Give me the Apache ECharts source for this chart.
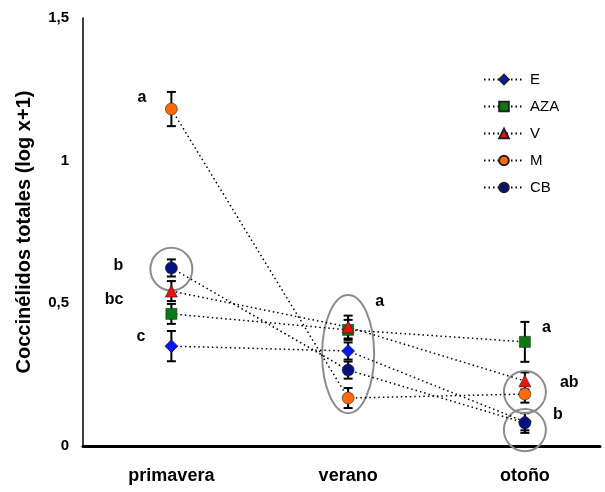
<!DOCTYPE html>
<html>
<head>
<meta charset="utf-8">
<script src="https://cdn.jsdelivr.net/npm/echarts@6/dist/echarts.min.js"></script>
<style>
  html, body { margin: 0; padding: 0; background: #fff; }
  #chart { width: 605px; height: 492px; }
</style>
</head>
<body>
<div id="chart"></div>
<script>
// Seasons on the x axis
const seasons = ['primavera', 'verano', 'otoño'];

// Mean values (log x+1) per treatment, one per season
const valE   = [0.350, 0.333, 0.085];
const valAZA = [0.463, 0.407, 0.365];
const valV   = [0.543, 0.417, 0.228];
const valM   = [1.181, 0.168, 0.182];
const valCB  = [0.624, 0.266, 0.081];

// Standard errors per treatment, one per season
const errE   = [0.053, 0.030, 0.030];
const errAZA = [0.035, 0.035, 0.070];
const errV   = [0.035, 0.040, 0.030];
const errM   = [0.060, 0.035, 0.030];
const errCB  = [0.030, 0.030, 0.035];

// Significance letters: [season index, value level, text]
const letterSeason = [0, 0, 0, 0, 1, 2, 2, 2];
const letterValue  = [1.22, 0.631, 0.512, 0.382, 0.505, 0.414, 0.221, 0.109];
const letterText   = ['a', 'b', 'bc', 'c', 'a', 'a', 'ab', 'b'];

// Groupings circled on the chart: season index, centre value, half height (value units)
const groupSeason = [0, 1, 2, 2];
const groupCenter = [0.620, 0.322, 0.189, 0.056];
const groupHalf   = [0.075, 0.207, 0.074, 0.074];

const yTicks = ['0', '0,5', '1', '1,5'];

const treatments = [
  { name: 'E',   vals: valE,   errs: errE,   symbol: 'diamond',  size: 13, color: '#0a14f0' },
  { name: 'AZA', vals: valAZA, errs: errAZA, symbol: 'rect',     size: 11, color: '#0a7a12' },
  { name: 'V',   vals: valV,   errs: errV,   symbol: 'triangle', size: 12, color: '#f01010' },
  { name: 'M',   vals: valM,   errs: errM,   symbol: 'circle',   size: 12, color: '#ff6a0a' },
  { name: 'CB',  vals: valCB,  errs: errCB,  symbol: 'circle',   size: 12, color: '#06107a' }
];

const FONT = 'Arial, "Liberation Sans", sans-serif';

const series = [];

// error bars
const errData = [];
treatments.forEach(t => t.vals.forEach((v, i) => errData.push([i + 1, v - t.errs[i], v + t.errs[i]])));
series.push({
  type: 'custom',
  name: 'err',
  z: 1,
  silent: true,
  data: errData,
  encode: { x: 0, y: [1, 2] },
  renderItem: function (params, api) {
    const x = api.value(0);
    const lo = api.coord([x, api.value(1)]);
    const hi = api.coord([x, api.value(2)]);
    const w = 4.5;
    const st = { stroke: '#000', lineWidth: 2 };
    return {
      type: 'group',
      children: [
        { type: 'line', shape: { x1: lo[0], y1: lo[1], x2: hi[0], y2: hi[1] }, style: st },
        { type: 'line', shape: { x1: lo[0] - w, y1: lo[1], x2: lo[0] + w, y2: lo[1] }, style: st },
        { type: 'line', shape: { x1: hi[0] - w, y1: hi[1], x2: hi[0] + w, y2: hi[1] }, style: st }
      ]
    };
  }
});

// treatment lines and markers
treatments.forEach(t => {
  series.push({
    type: 'line',
    name: t.name,
    z: 3,
    data: t.vals.map((v, i) => [i + 1, v]),
    symbol: t.symbol,
    symbolSize: t.size,
    showAllSymbol: true,
    lineStyle: { color: '#000', width: 1.5, type: [1.5, 3] },
    itemStyle: { color: t.color, borderColor: '#222', borderWidth: 0.6 },
    emphasis: { disabled: true },
    animation: false
  });
});

// circled groups
series.push({
  type: 'custom',
  name: 'groups',
  z: 2,
  silent: true,
  data: groupSeason.map((s, i) => [s + 1, groupCenter[i], groupHalf[i]]),
  renderItem: function (params, api) {
    const x = api.value(0);
    const c = api.coord([x, api.value(1)]);
    const top = api.coord([x, api.value(1) + api.value(2)]);
    const ry = c[1] - top[1];
    const rx = params.dataIndex === 1 ? 26 : 21;
    return {
      type: 'ellipse',
      shape: { cx: c[0], cy: c[1], rx: rx, ry: ry },
      style: { fill: 'none', stroke: '#8c8c8c', lineWidth: 2 }
    };
  }
});

// significance letters
const letterOffsets = [-25, -48, -48, -26, 27, 17, 35, 28];
series.push({
  type: 'custom',
  name: 'letters',
  z: 4,
  silent: true,
  data: letterSeason.map((s, i) => [s + 1, letterValue[i], i]),
  renderItem: function (params, api) {
    const i = api.value(2);
    const p = api.coord([api.value(0), api.value(1)]);
    const off = letterOffsets[i];
    return {
      type: 'text',
      style: {
        x: p[0] + off, y: p[1],
        text: letterText[i],
        align: off < 0 ? 'right' : 'left',
        verticalAlign: 'middle',
        font: 'bold 16px ' + FONT,
        fill: '#000'
      }
    };
  }
});

const chart = echarts.init(document.getElementById('chart'), null, { renderer: 'canvas' });
chart.setOption({
  animation: false,
  backgroundColor: '#fff',
  grid: { left: 83, right: 5, top: 18, bottom: 46, containLabel: false },
  legend: {
    orient: 'vertical',
    left: 478,
    top: 67,
    itemWidth: 40,
    itemHeight: 12,
    itemGap: 12,
    data: treatments.map(t => t.name),
    textStyle: { fontFamily: FONT, fontSize: 15, color: '#000', padding: [0, 0, 0, 1] },
    selectedMode: false
  },
  xAxis: {
    type: 'value',
    min: 0.5,
    max: 3.425,
    splitLine: { show: false },
    axisLine: { show: true, onZero: false, lineStyle: { color: '#000', width: 3 } },
    axisTick: { show: false },
    axisLabel: {
      customValues: [1, 2, 3],
      formatter: v => seasons[Math.round(v) - 1] || '',
      margin: 21,
      fontFamily: FONT, fontSize: 18, fontWeight: 'bold', color: '#000'
    }
  },
  yAxis: {
    type: 'value',
    min: 0,
    max: 1.5,
    interval: 0.5,
    name: 'Coccinélidos totales (log x+1)',
    nameLocation: 'middle',
    nameGap: 49,
    nameTextStyle: { fontFamily: FONT, fontSize: 20, fontWeight: 'bold', color: '#000' },
    splitLine: { show: false },
    axisLine: { show: true, lineStyle: { color: '#000', width: 1.5 } },
    axisTick: { show: false },
    axisLabel: {
      margin: 14,
      formatter: v => yTicks[Math.round(v * 2)],
      fontFamily: FONT, fontSize: 15, fontWeight: 'bold', color: '#000'
    }
  },
  series: series
});
</script>
</body>
</html>
